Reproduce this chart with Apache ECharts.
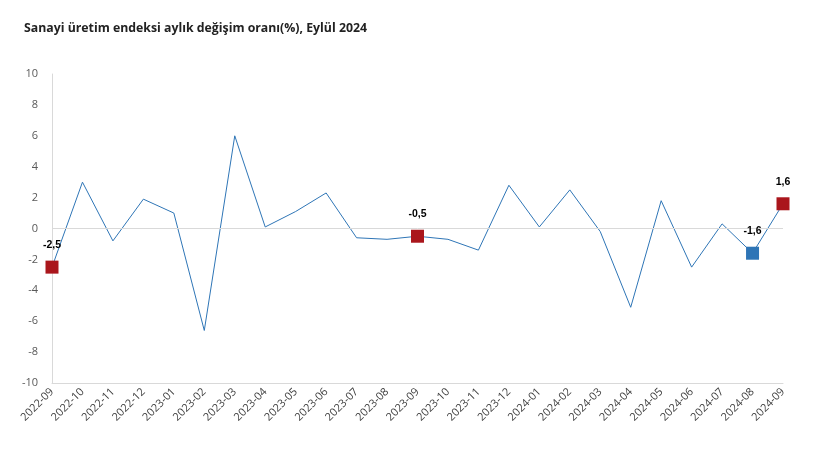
<!DOCTYPE html>
<html><head><meta charset="utf-8">
<script src="https://cdn.jsdelivr.net/npm/echarts@6/dist/echarts.min.js"></script>
<style>html,body{margin:0;padding:0;background:#fff}#c{width:813px;height:451px}</style>
</head><body><div id="c"></div>
<script>
var categories = ['2022-09','2022-10','2022-11','2022-12','2023-01','2023-02','2023-03','2023-04','2023-05','2023-06','2023-07','2023-08','2023-09','2023-10','2023-11','2023-12','2024-01','2024-02','2024-03','2024-04','2024-05','2024-06','2024-07','2024-08','2024-09'];
var values = [-2.5,3.0,-0.8,1.9,1.0,-6.6,6.0,0.1,1.1,2.3,-0.6,-0.7,-0.5,-0.7,-1.4,2.8,0.1,2.5,-0.2,-5.1,1.8,-2.5,0.3,-1.6,1.6];
var redMarks = ['2022-09','2023-09','2024-09'];
var blueMarks = ['2024-08'];
var yTicks = [-10,-8,-6,-4,-2,0,2,4,6,8,10];

function markData(list){
  return categories.map(function(c,i){ return list.indexOf(c) >= 0 ? values[i] : '-'; });
}
var fmt = function(p){ return String(p.value).replace('.', ','); };
var chart = echarts.init(document.getElementById('c'));
chart.setOption({
  animation:false,
  title:{text:'Sanayi üretim endeksi aylık değişim oranı(%), Eylül 2024', left:19, top:17,
    textStyle:{fontFamily:'Open Sans', fontSize:12.3, fontWeight:'bold', color:'#222'}},
  grid:{left:52, right:30, top:74, bottom:68},
  xAxis:{type:'category', data:categories, boundaryGap:false,
    axisLine:{onZero:false, lineStyle:{color:'#d9d9d9'}}, axisTick:{show:false},
    axisLabel:{rotate:45, fontFamily:'Open Sans', fontSize:11, color:'#404040', margin:7, interval:0}},
  yAxis:{type:'value', min:yTicks[0], max:yTicks[yTicks.length-1], interval:2,
    axisLine:{show:true, lineStyle:{color:'#d9d9d9'}}, axisTick:{show:false}, splitLine:{show:false},
    axisLabel:{fontFamily:'Open Sans', fontSize:11, color:'#595959', margin:14}},
  series:[
    {type:'line', z:2, data:values, symbol:'none', lineStyle:{color:'#2e75b6', width:1},
      markLine:{silent:true, symbol:'none', label:{show:false}, lineStyle:{color:'#d9d9d9', type:'solid', width:1},
        data:[{yAxis:0}]}},
    {type:'scatter', z:5, data:markData(redMarks), symbol:'rect', symbolSize:13,
      itemStyle:{color:'#aa161c', opacity:1},
      label:{show:true, position:'top', distance:10, formatter:fmt, fontFamily:'Liberation Sans', fontWeight:'bold', fontSize:10.5, color:'#000'}},
    {type:'scatter', z:5, data:markData(blueMarks), symbol:'rect', symbolSize:13,
      itemStyle:{color:'#2e75b6', opacity:1},
      label:{show:true, position:'top', distance:10, formatter:fmt, fontFamily:'Liberation Sans', fontWeight:'bold', fontSize:10.5, color:'#000'}}
  ]
});
</script></body></html>
